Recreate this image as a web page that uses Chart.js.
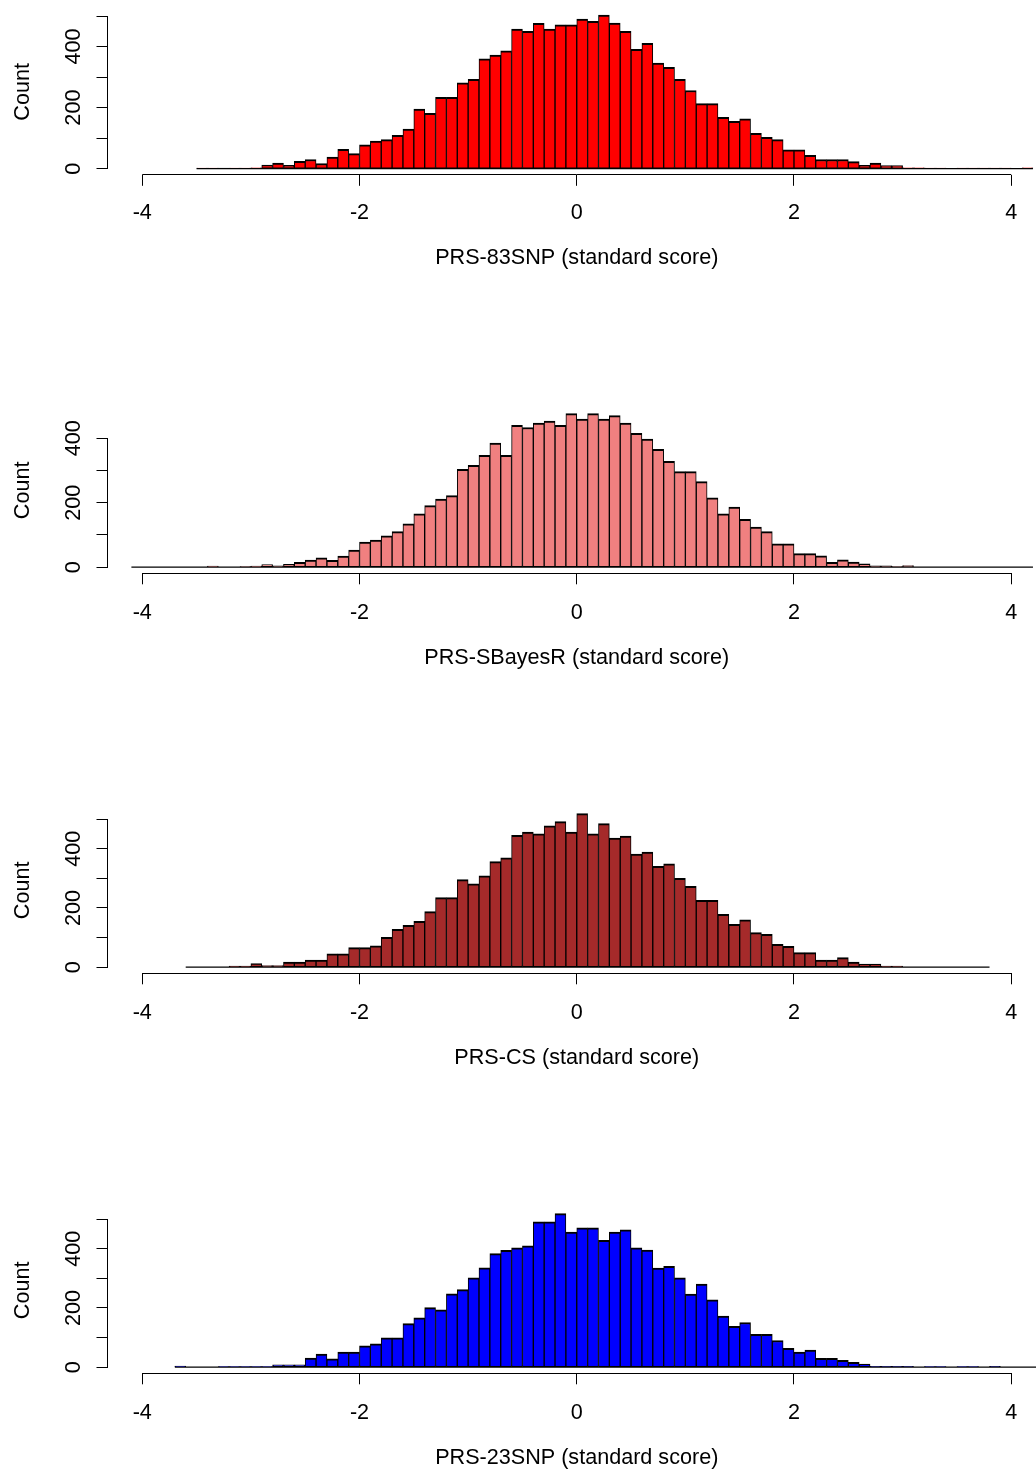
<!DOCTYPE html>
<html>
<head>
<meta charset="utf-8">
<script src="https://cdn.jsdelivr.net/npm/chart.js@4.4.1/dist/chart.umd.min.js"></script>
<style>
  html, body { margin: 0; padding: 0; background: #fff; overflow: hidden; }
  .panel { width: 1046px; height: 400px; }
  canvas { display: block; }
</style>
</head>
<body>
<div class="panel"><canvas id="prs83" width="1046" height="400"></canvas></div>
<div class="panel"><canvas id="sbayes" width="1046" height="400"></canvas></div>
<div class="panel"><canvas id="prscs" width="1046" height="400"></canvas></div>
<div class="panel"><canvas id="prs23" width="1046" height="400"></canvas></div>
<script>
(function () {
    // histogram bins are 0.1 wide, each series starts at its first bin edge
    const binWidth = 0.1;
    const xTicks = [-4, -2, 0, 2, 4];
    const yTicks = [0, 100, 200, 300, 400, 500];
    const yLabelTicks = [0, 200, 400];

    const prs83Start = -3.5;
    const prs83Counts = [2, 2, 1, 2, 2, 3, 12, 18, 11, 24, 30, 17, 38, 63, 49, 78, 90, 95, 109, 130,
        195, 181, 234, 234, 281, 293, 360, 372, 386, 457, 450, 476, 457, 471, 471,
        490, 483, 503, 477, 450, 391, 411, 346, 332, 293, 256, 213, 213, 168, 155, 163, 116, 103, 95,
        62, 62, 44, 30, 30, 30, 23, 11, 18, 10, 10, 3, 3, 2, 2, 0, 2, 2, 2, 2, 2, 0, 3];

    const sbayesStart = -4.1;
    const sbayesCounts = [0, 0, 0, 0, 0, 0, 0, 3, 0, 0, 1, 3, 8, 4, 9, 15, 22, 29, 21, 34, 53,
        78, 84, 97, 110, 134, 165, 191, 211, 222, 303, 316, 347, 385, 347, 440, 433, 447, 453, 440, 476,
        459, 476, 459, 470, 447, 415, 397, 365, 328, 296, 296, 265, 215, 165, 186, 148, 124, 110, 72, 72,
        42, 42, 35, 15, 23, 16, 10, 4, 4, 1, 5, 0, 0, 0, 0, 0, 0, 0, 0, 0, 0, 0];

    const prscsStart = -3.6;
    const prscsCounts = [0, 0, 0, 0, 4, 4, 12, 5, 5, 17, 17, 24, 24, 45, 45, 66,
        66, 72, 101, 128, 141, 155, 188, 235, 235, 296, 282, 309, 357, 370, 446, 457, 451, 478, 492, 457,
        519, 451, 485, 436, 443, 382, 389, 341, 349, 300, 273, 226, 226, 179, 145, 160, 117, 111, 77, 70,
        49, 49, 24, 24, 32, 17, 10, 10, 4, 4, 0, 0, 0, 0, 0, 0, 0, 0];

    const prs23Start = -3.7;
    const prs23Counts = [4, 0, 0, 0, 2, 2, 2, 2, 2, 8, 8, 8, 31, 44, 28, 51, 51,
        72, 79, 99, 99, 147, 167, 201, 194, 248, 262, 302, 336, 384, 395, 403, 410, 491, 491, 519, 457,
        471, 471, 429, 457, 464, 403, 396, 335, 341, 302, 247, 281, 228, 173, 138, 151, 111, 111, 90, 64,
        51, 58, 30, 30, 23, 16, 10, 3, 3, 3, 3, 0, 2, 2, 0, 2, 2, 0, 3, 0, 0, 0, 0];

    const panels = [
        { id: 'prs83', start: prs83Start, counts: prs83Counts, color: '#ff0000', title: 'PRS-83SNP (standard score)', shift: 1.5 },
        { id: 'sbayes', start: sbayesStart, counts: sbayesCounts, color: '#f08080', title: 'PRS-SBayesR (standard score)', shift: 0 },
        { id: 'prscs', start: prscsStart, counts: prscsCounts, color: '#a52a2a', title: 'PRS-CS (standard score)', shift: 0 },
        { id: 'prs23', start: prs23Start, counts: prs23Counts, color: '#0000ff', title: 'PRS-23SNP (standard score)', shift: 0 }
    ];

    const fonte = '"Liberation Sans", Arial, sans-serif';
    const tamanho = 21.6;
    Chart.defaults.font.family = fonte;
    Chart.defaults.color = '#000';

    // R style axes: lines only from first to last tick, rotated y labels
    const rAxes = {
        id: 'rAxes',
        afterDraw(chart) {
            const { ctx, chartArea, scales: { x, y } } = chart;
            ctx.save();
            ctx.strokeStyle = '#000';
            ctx.lineWidth = 1;

            const yb = Math.round(chartArea.bottom - 0.5) + 0.5;
            ctx.beginPath();
            ctx.moveTo(x.getPixelForValue(xTicks[0]), yb);
            ctx.lineTo(x.getPixelForValue(xTicks[xTicks.length - 1]), yb);
            ctx.stroke();

            const shown = yTicks.filter(v => v <= y.max);
            const xl = Math.round(chartArea.left - 0.5) + 0.5;
            ctx.beginPath();
            ctx.moveTo(xl, y.getPixelForValue(shown[0]));
            ctx.lineTo(xl, y.getPixelForValue(shown[shown.length - 1]));
            ctx.stroke();

            ctx.fillStyle = '#000';
            ctx.font = tamanho + 'px ' + fonte;
            ctx.textAlign = 'center';
            ctx.textBaseline = 'alphabetic';
            yLabelTicks.filter(v => v <= y.max).forEach(v => {
                ctx.save();
                ctx.translate(chartArea.left - 28, y.getPixelForValue(v));
                ctx.rotate(-Math.PI / 2);
                ctx.fillText(String(v), 0, 0);
                ctx.restore();
            });
            ctx.restore();
        }
    };

    panels.forEach(p => {
        const bars = p.counts.map((c, i) => ({ x: p.start + (i + 0.5) * binWidth, y: c }));
        const fim = p.start + p.counts.length * binWidth;
        const topo = Math.max(...p.counts);

        new Chart(document.getElementById(p.id), {
            type: 'bar',
            data: {
                datasets: [{
                    type: 'bar',
                    order: 1,
                    data: bars,
                    backgroundColor: p.color,
                    borderColor: '#000',
                    borderWidth: { top: 2, left: 1, right: 1, bottom: 1 },
                    borderSkipped: false,
                    barPercentage: 1,
                    categoryPercentage: 1,
                    grouped: false
                }, {
                    type: 'line',
                    order: 0,
                    data: [{ x: p.start, y: 0 }, { x: fim, y: 0 }],
                    borderColor: '#000',
                    borderWidth: 1.3,
                    pointRadius: 0,
                    fill: false
                }]
            },
            options: {
                responsive: false,
                maintainAspectRatio: false,
                animation: false,
                devicePixelRatio: 1,
                layout: { padding: { top: 7.5 + p.shift, left: 0, right: 0, bottom: 0 } },
                plugins: {
                    legend: { display: false },
                    tooltip: { enabled: false }
                },
                scales: {
                    x: {
                        type: 'linear',
                        offset: false,
                        min: -4.32,
                        max: 4.32,
                        afterBuildTicks: s => { s.ticks = xTicks.map(v => ({ value: v })); },
                        afterFit: s => { s.height = 226.7 - p.shift; },
                        grid: { offset: false, drawOnChartArea: false, drawTicks: true, tickLength: 11, color: '#000', lineWidth: 1 },
                        border: { display: false },
                        ticks: {
                            font: { size: tamanho },
                            color: '#000',
                            padding: 16.2 - p.shift,
                            maxRotation: 0,
                            autoSkip: false,
                            callback: v => String(v)
                        },
                        title: {
                            display: true,
                            text: p.title,
                            font: { size: tamanho },
                            color: '#000',
                            padding: { top: 0, bottom: 129 }
                        }
                    },
                    y: {
                        type: 'linear',
                        min: -0.04 * topo,
                        max: 1.04 * topo,
                        afterBuildTicks: s => { s.ticks = yTicks.filter(v => v <= s.max).map(v => ({ value: v })); },
                        afterFit: s => { s.width = 107.5; },
                        grid: { drawOnChartArea: false, drawTicks: true, tickLength: 11, color: '#000', lineWidth: 1 },
                        border: { display: false },
                        ticks: { display: false },
                        title: {
                            display: true,
                            text: 'Count',
                            font: { size: tamanho },
                            color: '#000',
                            padding: { top: 10.5, bottom: 0 }
                        }
                    }
                }
            },
            plugins: [rAxes]
        });
    });
})();
</script>
</body>
</html>
